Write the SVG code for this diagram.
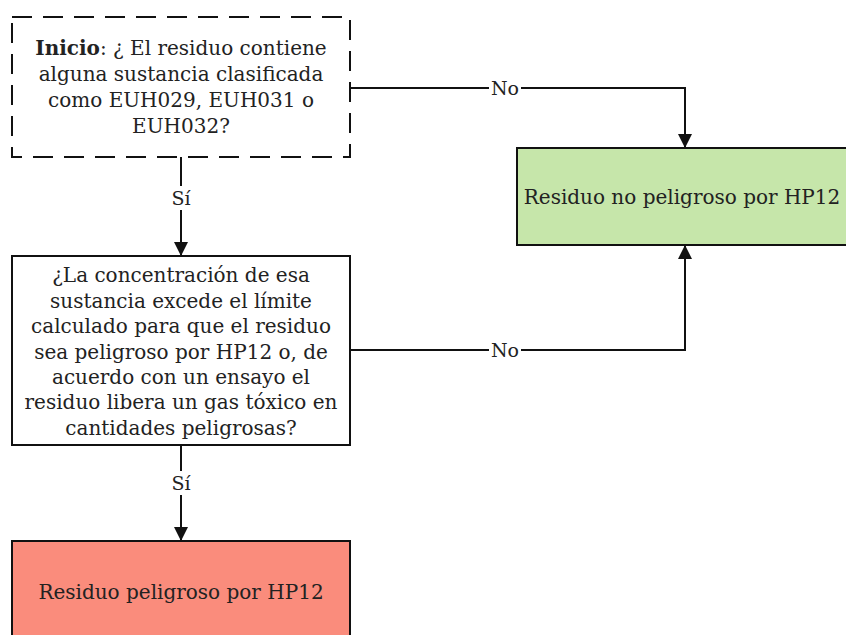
<svg xmlns="http://www.w3.org/2000/svg" width="846" height="635" viewBox="0 0 846 635">
<style>
text{font-family:"DejaVu Serif","Liberation Serif",serif;font-size:20px;fill:#222;text-anchor:middle}
.box{stroke:#111;stroke-width:2}
.ln{fill:none;stroke:#111;stroke-width:2}
.lbl{font-size:19px}
</style>
<defs>
<marker id="ah" viewBox="0 0 10 10" refX="10" refY="5" markerWidth="20" markerHeight="14" markerUnits="userSpaceOnUse" orient="auto">
<path d="M0,0 L10,5 L0,10 z" fill="#111"/>
</marker>
</defs>
<rect width="846" height="635" fill="#fff"/>
<g id="connectors">
<path class="ln" d="M181,157 V256" marker-end="url(#ah)"/>
<rect x="168" y="186" width="26" height="24" fill="#fff"/>
<text class="lbl" x="181" y="205">Sí</text>
<path class="ln" d="M350,88 H685 V148" marker-end="url(#ah)"/>
<rect x="489" y="78" width="32" height="20" fill="#fff"/>
<text class="lbl" x="505" y="95">No</text>
<path class="ln" d="M350,350 H685 V245" marker-end="url(#ah)"/>
<rect x="489" y="340" width="32" height="20" fill="#fff"/>
<text class="lbl" x="505" y="357">No</text>
<path class="ln" d="M181,445 V541" marker-end="url(#ah)"/>
<rect x="168" y="471" width="26" height="24" fill="#fff"/>
<text class="lbl" x="181" y="490">Sí</text>
</g>
<g id="start">
<rect x="12" y="17" width="338" height="140" fill="#fff" class="box" stroke-dasharray="20 11"/>
<text x="181" y="55"><tspan font-weight="bold">Inicio</tspan>: ¿ El residuo contiene</text>
<text x="181" y="81">alguna sustancia clasificada</text>
<text x="181" y="107">como EUH029, EUH031 o</text>
<text x="181" y="133">EUH032?</text>
</g>
<g id="no-peligroso">
<rect x="517" y="148" width="340" height="97" fill="#c6e6aa" class="box"/>
<text x="682" y="204">Residuo no peligroso por HP12</text>
</g>
<g id="question">
<rect x="12" y="256" width="338" height="189" fill="#fff" class="box"/>
<text x="181" y="282">¿La concentración de esa</text>
<text x="181" y="308">sustancia excede el límite</text>
<text x="181" y="333">calculado para que el residuo</text>
<text x="181" y="359">sea peligroso por HP12 o, de</text>
<text x="181" y="384">acuerdo con un ensayo el</text>
<text x="181" y="409">residuo libera un gas tóxico en</text>
<text x="181" y="435">cantidades peligrosas?</text>
</g>
<g id="peligroso">
<rect x="12" y="541" width="338" height="110" fill="#fa8c7c" class="box"/>
<text x="181" y="599">Residuo peligroso por HP12</text>
</g>
</svg>
